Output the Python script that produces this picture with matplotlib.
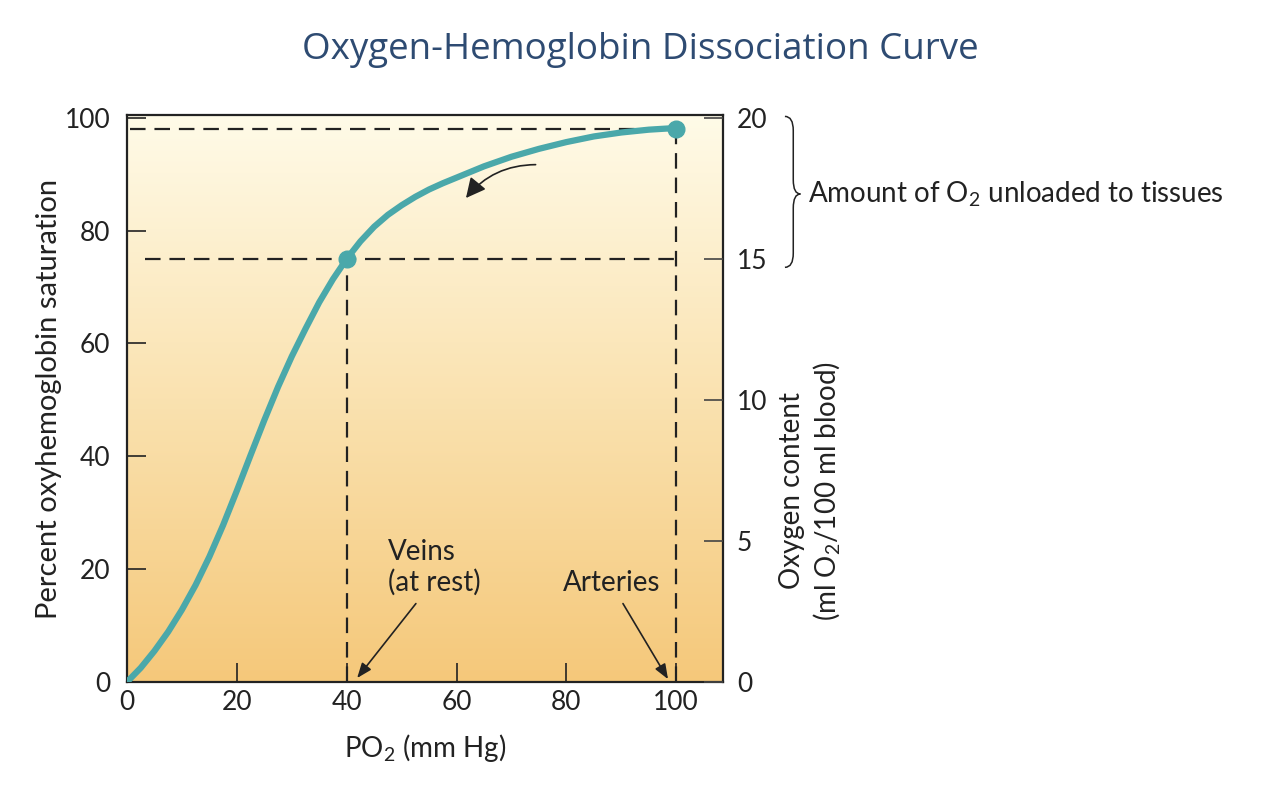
import numpy as np
import matplotlib
matplotlib.use('Agg')
import matplotlib.pyplot as plt
from matplotlib.patches import FancyArrowPatch, PathPatch
from matplotlib.path import Path
import matplotlib.transforms as mtransforms

plt.rcParams['font.family'] = ['Lato', 'DejaVu Sans']

# Curve: PO2 (mm Hg) vs percent saturation
po2 = [0, 2.5, 5, 7.5, 10, 12.5, 15, 17.5, 20, 22.5, 25, 27.5, 30, 32.5, 35, 37.5,
       40, 42.5, 45, 47.5, 50, 52.5, 55, 57.5, 60, 65, 70, 75, 80, 85, 90, 95, 100]
sat = [0, 2.5, 5.5, 8.9, 12.8, 17.2, 22.2, 27.8, 33.9, 40.2, 46.4, 52.3, 57.7, 62.6, 67.3, 71.4,
       75, 78.1, 80.7, 82.8, 84.5, 86.0, 87.3, 88.4, 89.4, 91.4, 93.1, 94.5, 95.7, 96.7, 97.4, 97.9, 98.2]

veins = (40, 75)
arteries = (100, 98)

x_ticks = [0, 20, 40, 60, 80, 100]
y_ticks = [0, 20, 40, 60, 80, 100]
content_ticks = [0, 5, 10, 15, 20]

curve_col = '#4aa8aa'
ink = '#222222'
fs = 20

fig = plt.figure(figsize=(12.8, 8), dpi=100)
ax = fig.add_axes([0.0992, 0.1475, 0.4656, 0.70875])
ax.set_xlim(0, 108.5)
ax.set_ylim(0, 100.5)

# background gradient (cream at the top, orange at the bottom)
grad = np.linspace(0, 1, 256).reshape(-1, 1)
cmap = matplotlib.colors.LinearSegmentedColormap.from_list('bg', ['#f5c87a', '#fae2b0', '#fffbe8'])
ax.imshow(grad, cmap=cmap, aspect='auto', extent=[0, 108.5, 0, 100.5], origin='lower', zorder=0)

# dashed guide lines
dash = dict(color=ink, lw=1.6, dashes=(7, 4), zorder=2)
ax.plot([0.5, arteries[0]], [arteries[1], arteries[1]], **dash)
ax.plot([arteries[0], arteries[0]], [0, arteries[1]], **dash)
ax.plot([3.3, arteries[0]], [veins[1], veins[1]], **dash)
ax.plot([veins[0], veins[0]], [0, veins[1]], **dash)

# the curve
ax.plot(po2, sat, color=curve_col, lw=4.5, solid_capstyle='round', solid_joinstyle='round', zorder=3)
ax.plot([veins[0], arteries[0]], [veins[1], arteries[1]], 'o', color=curve_col, ms=12, zorder=4)

# axes styling
for s in ax.spines.values():
    s.set_color(ink)
    s.set_linewidth(1.6)
ax.set_xticks(x_ticks)
ax.set_yticks(y_ticks)
ax.tick_params(direction='in', length=14, width=1.2, color=ink, labelsize=19, labelcolor=ink, pad=6)
ax.tick_params(axis='y', pad=12)
ax.set_xlabel('PO$_\\mathregular{2}$ (mm Hg)', fontsize=fs, color=ink, labelpad=12)
ax.set_ylabel('Percent oxyhemoglobin saturation', fontsize=fs + 1, color=ink, labelpad=2)

ax2 = ax.twinx()
ax2.set_ylim(0, 100.5 * 0.2)
ax2.set_yticks(content_ticks)
ax2.tick_params(direction='in', length=14, width=1.2, color='#444444', labelsize=19, labelcolor=ink, pad=10)
for s in ax2.spines.values():
    s.set_visible(False)
ax2.text(1.148, 0.337, 'Oxygen content\n(ml O$_\\mathregular{2}$/100 ml blood)', transform=ax2.transAxes,
         rotation=90, fontsize=fs, color=ink, ha='center', va='center', linespacing=1.25)

# arrows and labels
arrow_kw = dict(arrowstyle='-|>,head_length=0.9,head_width=0.35', color=ink, lw=1.2, shrinkA=0, shrinkB=0)
ax.add_patch(FancyArrowPatch((74.9, 91.7), (61.4, 85.4), connectionstyle='arc3,rad=0.25',
                             arrowstyle='-|>,head_length=8,head_width=4', color=ink, lw=1.2,
                             mutation_scale=1.5, zorder=5))
ax.text(47.5, 20.3, 'Veins\n(at rest)', fontsize=fs, color=ink, ha='left', va='center', linespacing=1.2)
ax.annotate('', xy=(41.9, 0.7), xytext=(52.6, 13.9), arrowprops=arrow_kw)
ax.text(88.2, 17.6, 'Arteries', fontsize=fs, color=ink, ha='center', va='center')
ax.annotate('', xy=(98.5, 0.5), xytext=(90.3, 13.9), arrowprops=arrow_kw)

# brace from 20 to 15 on the right axis
trans = mtransforms.blended_transform_factory(ax2.transAxes, ax2.transData)
x0, x1, xt = 1.104, 1.118, 1.130
top, mid, bot = 20.05, 17.3, 14.7
codes = [Path.MOVETO, Path.CURVE3, Path.CURVE3, Path.LINETO,
         Path.CURVE3, Path.CURVE3,
         Path.MOVETO, Path.CURVE3, Path.CURVE3, Path.LINETO,
         Path.CURVE3, Path.CURVE3]
verts = [(x0, top), (x1, top), (x1, top - 0.5), (x1, mid + 0.5),
         (x1, mid), (xt, mid),
         (x0, bot), (x1, bot), (x1, bot + 0.5), (x1, mid - 0.5),
         (x1, mid), (xt, mid)]
ax2.add_patch(PathPatch(Path(verts, codes), transform=trans, fc='none', ec=ink, lw=1.1, clip_on=False))
ax2.text(1.143, mid, 'Amount of O$_\\mathregular{2}$ unloaded to tissues', transform=trans,
         fontsize=fs, color=ink, ha='left', va='center')

fig.text(0.5, 0.937, 'Oxygen-Hemoglobin Dissociation Curve', fontsize=26.5, color='#2e4b72',
         ha='center', va='center', family=['Open Sans', 'DejaVu Sans'])

fig.savefig('out.png', dpi=100)
